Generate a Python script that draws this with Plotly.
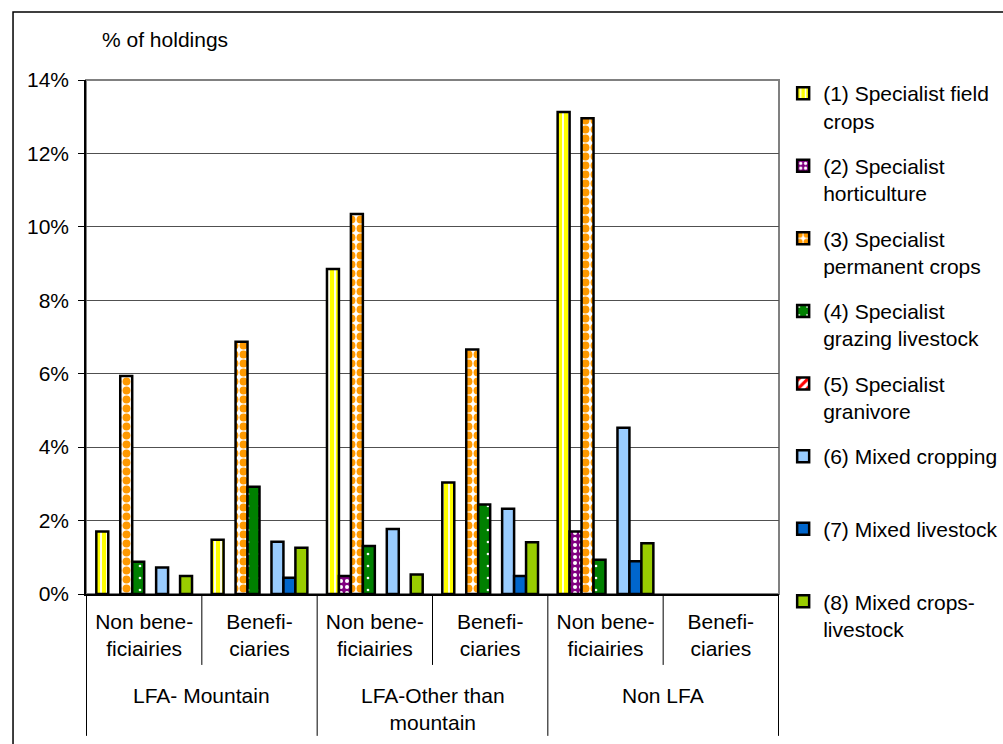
import plotly.graph_objects as go

# ---- data ----
regions = ["LFA- Mountain", "LFA-Other than<br>mountain", "Non LFA"]
subgroups = ["Non bene-<br>ficiairies", "Benefi-<br>ciaries"]
categories = [f"{r} | {s}" for r in regions for s in subgroups]
tick_labels = [s for r in regions for s in subgroups]

series_names = [
    "(1) Specialist field<br>crops",
    "(2) Specialist<br>horticulture",
    "(3) Specialist<br>permanent crops",
    "(4) Specialist<br>grazing livestock",
    "(5) Specialist<br>granivore",
    "(6) Mixed cropping<br> ",
    "(7) Mixed livestock<br> ",
    "(8) Mixed crops-<br>livestock",
]
s1 = [1.70, 1.48, 8.85, 3.04, 13.13, None]
s2 = [None, None, 0.49, None, 1.70, None]
s3 = [5.94, 6.87, 10.35, 6.66, 12.96, None]
s4 = [0.88, 2.92, 1.31, 2.44, 0.93, None]
s5 = [None, None, None, None, None, None]
s6 = [0.72, 1.42, 1.77, 2.32, 4.53, None]
s7 = [None, 0.44, None, 0.49, 0.89, None]
s8 = [0.49, 1.26, 0.53, 1.41, 1.38, None]
series_values = [s1, s2, s3, s4, s5, s6, s7, s8]

y_ticks = [0, 2, 4, 6, 8, 10, 12, 14]
y_tick_labels = ["0%", "2%", "4%", "6%", "8%", "10%", "12%", "14%"]

# ---- styles ----
FONT = "Arial, Liberation Sans, sans-serif"
FS = 21
styles = [
    dict(color="#FFFF00", pattern=dict(shape="|", fgcolor="white", bgcolor="#FFFF00", size=6, solidity=0.3, fillmode="replace")),
    dict(color="#800080", pattern=dict(shape=".", fgcolor="white", bgcolor="#800080", size=6, solidity=0.35, fillmode="replace")),
    dict(color="#FF9900", pattern=dict(shape=".", fgcolor="#FF9900", bgcolor="white", size=9, solidity=0.6, fillmode="replace")),
    dict(color="#008000", pattern=dict(shape=".", fgcolor="white", bgcolor="#008000", size=12, solidity=0.04, fillmode="replace")),
    dict(color="#FF0000", pattern=dict(shape="/", fgcolor="#FF0000", bgcolor="white", size=8, solidity=0.5, fillmode="replace")),
    dict(color="#99CCFF"),
    dict(color="#0066CC"),
    dict(color="#99CC00"),
]

fig = go.Figure()
for i, (name, vals, st) in enumerate(zip(series_names, series_values, styles)):
    marker = dict(color=st["color"], line=dict(color="black", width=2.5))
    if "pattern" in st:
        marker["pattern"] = st["pattern"]
    fig.add_trace(go.Bar(x=categories, y=vals, name=name, marker=marker,
                         legendgroup=f"g{i}"))

shapes = [
    # plot-area frame (grey)
    dict(type="rect", xref="paper", yref="paper", x0=0, x1=1, y0=0, y1=1,
         line=dict(color="#808080", width=2), layer="below"),
    # outer chart border
    dict(type="rect", xref="paper", yref="paper", x0=-0.1053, x1=1.34, y0=-0.33, y1=1.1323,
         line=dict(color="black", width=1.5), layer="below"),
]
# category boundaries
n = len(categories)
for k in range(n + 1):
    xb = k - 0.5
    long_line = (k % 2 == 0)
    shapes.append(dict(type="line", xref="x", yref="paper", x0=xb, x1=xb,
                       y0=0, y1=(-0.276 if long_line else -0.138),
                       line=dict(color="black", width=1)))

annotations = [
    dict(text="% of holdings", xref="paper", yref="paper", x=0.02, y=1.078,
         xanchor="left", yanchor="middle", showarrow=False,
         font=dict(family=FONT, size=FS, color="black")),
]
for j, r in enumerate(regions):
    annotations.append(dict(text=r, xref="x", yref="paper", x=2 * j + 0.5, y=-0.172,
                            xanchor="center", yanchor="top", showarrow=False,
                            font=dict(family=FONT, size=FS, color="black")))

fig.update_layout(
    width=1003, height=744,
    margin=dict(l=86, r=224, t=80, b=150, autoexpand=False),
    paper_bgcolor="white", plot_bgcolor="white",
    font=dict(family=FONT, size=FS, color="black"),
    barmode="group", bargap=0.17, bargroupgap=0,
    showlegend=True,
    legend=dict(x=1.006, y=1.0136, xanchor="left", yanchor="top", valign="top",
                tracegroupgap=15, maxheight=700,
                font=dict(family=FONT, size=FS, color="black"),
                bgcolor="rgba(0,0,0,0)"),
    shapes=shapes,
    annotations=annotations,
    xaxis=dict(type="category", tickvals=categories, ticktext=tick_labels,
               showline=True, linecolor="black", linewidth=1.5, ticks="",
               showgrid=False, zeroline=False, ticklabelstandoff=8,
               tickfont=dict(family=FONT, size=FS, color="black")),
    yaxis=dict(range=[0, 14], tickvals=y_ticks, ticktext=y_tick_labels,
               showline=True, linecolor="black", linewidth=1.5,
               ticks="outside", ticklen=6, tickcolor="black",
               ticklabelstandoff=5,
               showgrid=True, gridcolor="#505050", gridwidth=1, zeroline=False,
               tickfont=dict(family=FONT, size=FS, color="black")),
)

fig.write_html("out.html", config={"displayModeBar": False},
               post_script="document.body.style.margin='0';")
